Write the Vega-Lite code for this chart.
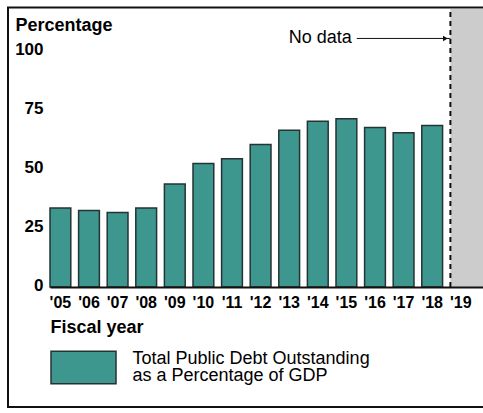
{
  "$schema": "https://vega.github.io/schema/vega-lite/v6.json",
  "width": 433,
  "height": 278,
  "autosize": {"type": "none"},
  "padding": {"left": 50, "top": 9, "right": 0, "bottom": 126},
  "background": "white",
  "config": {
    "view": {"stroke": null},
    "font": "Liberation Sans"
  },
  "datasets": {
    "debt": [
      {"year": "'05", "value": 33.5, "series": "Total Public Debt Outstanding as a Percentage of GDP"},
      {"year": "'06", "value": 32.5, "series": "Total Public Debt Outstanding as a Percentage of GDP"},
      {"year": "'07", "value": 31.6, "series": "Total Public Debt Outstanding as a Percentage of GDP"},
      {"year": "'08", "value": 33.5, "series": "Total Public Debt Outstanding as a Percentage of GDP"},
      {"year": "'09", "value": 43.7, "series": "Total Public Debt Outstanding as a Percentage of GDP"},
      {"year": "'10", "value": 52.4, "series": "Total Public Debt Outstanding as a Percentage of GDP"},
      {"year": "'11", "value": 54.4, "series": "Total Public Debt Outstanding as a Percentage of GDP"},
      {"year": "'12", "value": 60.5, "series": "Total Public Debt Outstanding as a Percentage of GDP"},
      {"year": "'13", "value": 66.5, "series": "Total Public Debt Outstanding as a Percentage of GDP"},
      {"year": "'14", "value": 70.4, "series": "Total Public Debt Outstanding as a Percentage of GDP"},
      {"year": "'15", "value": 71.4, "series": "Total Public Debt Outstanding as a Percentage of GDP"},
      {"year": "'16", "value": 67.7, "series": "Total Public Debt Outstanding as a Percentage of GDP"},
      {"year": "'17", "value": 65.5, "series": "Total Public Debt Outstanding as a Percentage of GDP"},
      {"year": "'18", "value": 68.6, "series": "Total Public Debt Outstanding as a Percentage of GDP"}
    ],
    "nodata": [
      {"year": "'19", "label": "No data", "labelYear": "'15", "labelY": 105.5}
    ]
  },
  "layer": [
    {
      "data": {"values": [{}]},
      "mark": {"type": "rect", "fill": null, "fillOpacity": 0, "stroke": "#111111", "strokeWidth": 2, "clip": false},
      "encoding": {
        "x": {"value": -42},
        "x2": {"value": 445},
        "y": {"value": -1.5},
        "y2": {"value": 398}
      }
    },
    {
      "data": {"name": "nodata"},
      "mark": {"type": "rect", "fill": "#cccccc", "stroke": null},
      "encoding": {
        "x": {"field": "year", "type": "ordinal", "bandPosition": 0},
        "x2": {"value": "width"},
        "y": {"datum": 0},
        "y2": {"datum": 118}
      }
    },
    {
      "data": {"name": "nodata"},
      "mark": {"type": "rule", "stroke": "#111111", "strokeWidth": 2, "strokeDash": [5, 4]},
      "encoding": {
        "x": {"field": "year", "type": "ordinal", "bandPosition": 0},
        "y": {"datum": 0},
        "y2": {"datum": 117}
      }
    },
    {
      "data": {"name": "debt"},
      "mark": {"type": "bar", "stroke": "#263333", "strokeWidth": 1.5},
      "encoding": {
        "x": {
          "field": "year",
          "type": "ordinal",
          "scale": {
            "domain": ["'05", "'06", "'07", "'08", "'09", "'10", "'11", "'12", "'13", "'14", "'15", "'16", "'17", "'18", "'19"],
            "paddingInner": 0.273,
            "paddingOuter": 0.2066,
            "align": 0
          },
          "axis": {
            "title": "Fiscal year",
            "bandPosition": 0.5,
            "titleFontSize": 18,
            "titleFontWeight": "bold",
            "titleColor": "black",
            "titleAnchor": "start",
            "titleAlign": "left",
            "titleBaseline": "middle",
            "titleX": 0,
            "titleY": 40,
            "labelAngle": 0,
            "labelAlign": "center",
            "labelBaseline": "middle",
            "labelFontSize": 16,
            "labelFontWeight": "bold",
            "labelColor": "black",
            "labelPadding": 15,
            "ticks": false,
            "domainColor": "#111111",
            "domainWidth": 2,
            "zindex": 2
          }
        },
        "y": {
          "field": "value",
          "type": "quantitative",
          "scale": {"domain": [0, 118], "nice": false},
          "axis": {
            "title": "Percentage",
            "titleAngle": 0,
            "titleFontSize": 18,
            "titleFontWeight": "bold",
            "titleColor": "black",
            "titleAlign": "left",
            "titleBaseline": "middle",
            "titleX": -35,
            "titleY": 16,
            "values": [0, 25, 50, 75, 100],
            "labelFontSize": 17,
            "labelFontWeight": "bold",
            "labelColor": "black",
            "labelPadding": 7,
            "labelOffset": -2,
            "ticks": false,
            "domain": false,
            "grid": false,
            "zindex": 2
          }
        },
        "fill": {
          "field": "series",
          "type": "nominal",
          "scale": {"range": ["#3d978f"]},
          "legend": {
            "title": null,
            "orient": "none",
            "legendX": 0,
            "legendY": 325,
            "padding": 0,
            "symbolType": "M-1,-0.5H1V0.5H-1Z",
            "symbolSize": 4225,
            "symbolStrokeColor": "#263333",
            "symbolStrokeWidth": 1.5,
            "symbolOpacity": 1,
            "labelFontSize": 18,
            "labelColor": "black",
            "labelOffset": 15.5,
            "labelLimit": 400,
            "labelBaseline": "middle",
            "labelExpr": "['Total Public Debt Outstanding', 'as a Percentage of GDP']",
            "encode": {"labels": {"update": {"lineHeight": {"value": 17}, "dy": {"value": -8.5}}}}
          }
        }
      }
    },
    {
      "data": {"name": "nodata"},
      "mark": {"type": "text", "align": "right", "baseline": "middle", "fontSize": 18, "color": "black", "dx": -5},
      "encoding": {
        "x": {"field": "labelYear", "type": "ordinal", "bandPosition": 1},
        "y": {"field": "labelY", "type": "quantitative"},
        "text": {"field": "label"}
      }
    },
    {
      "data": {"name": "nodata"},
      "mark": {"type": "rule", "stroke": "#111111", "strokeWidth": 1},
      "encoding": {
        "x": {"field": "labelYear", "type": "ordinal", "bandPosition": 1},
        "x2": {"field": "year", "bandPosition": 0},
        "y": {"field": "labelY", "type": "quantitative"}
      }
    },
    {
      "data": {"name": "nodata"},
      "mark": {"type": "point", "shape": "triangle-right", "filled": true, "color": "#111111", "size": 30, "opacity": 1},
      "encoding": {
        "x": {"field": "year", "type": "ordinal", "bandPosition": 0},
        "xOffset": {"value": -5},
        "y": {"field": "labelY", "type": "quantitative"}
      }
    }
  ]
}
